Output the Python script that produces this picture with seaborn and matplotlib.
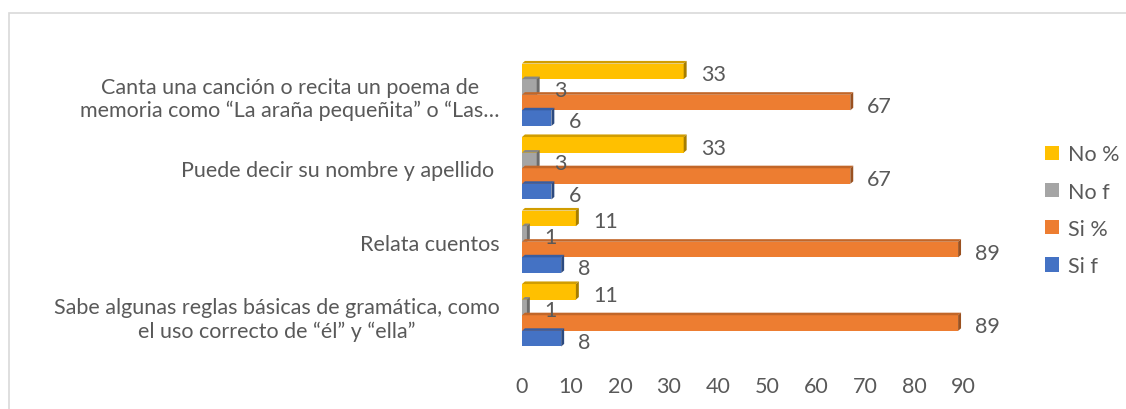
import numpy as np
import pandas as pd

import matplotlib
import matplotlib.pyplot as plt
from matplotlib.patches import Polygon, Rectangle

import seaborn as sns

indicadores = [
    'Canta una canción o recita un poema de\nmemoria como “La araña pequeñita” o “Las…',
    'Puede decir su nombre y apellido ',
    'Relata cuentos',
    'Sabe algunas reglas básicas de gramática, como\nel uso correcto de “él” y “ella”',
]
series = ['No %', 'No f', 'Si %', 'Si f']
no_pct = [33, 33, 11, 11]
no_f = [3, 3, 1, 1]
si_pct = [67, 67, 89, 89]
si_f = [6, 6, 8, 8]

colores = {'No %': '#FFC000', 'No f': '#A5A5A5', 'Si %': '#ED7D31', 'Si f': '#4472C4'}
texto = '#595959'
fs = 15.5

valores = {'No %': no_pct, 'No f': no_f, 'Si %': si_pct, 'Si f': si_f}
filas = []
for s in series:
    for ind, v in zip(indicadores, valores[s]):
        filas.append({'indicador': ind, 'serie': s, 'valor': v})
df = pd.DataFrame(filas)

sns.set_theme(style='white')
plt.rcParams['font.family'] = ['Lato', 'DejaVu Sans']

fig = plt.figure(figsize=(11.26, 4.1), dpi=100)
ax = fig.add_axes([522 / 1126, 1 - 353 / 410, 441 / 1126, 294 / 410])

sns.barplot(data=df, x='valor', y='indicador', hue='serie', order=indicadores,
            hue_order=series, palette=colores, orient='h', width=0.85,
            saturation=1, linewidth=0, ax=ax)


def oscurecer(c, f):
    r, g, b = matplotlib.colors.to_rgb(c)
    return (r * f, g * f, b * f)


# efecto 3D y etiquetas de datos
dx = 0.6
dy = 0.035
for cont, s in zip(ax.containers, series):
    for p in cont.patches:
        x0 = p.get_x()
        w = p.get_width()
        ytop = p.get_y()
        ybot = p.get_y() + p.get_height()
        x1 = x0 + w
        top = Polygon([(x0, ytop), (x0 + dx, ytop - dy), (x1 + dx, ytop - dy), (x1, ytop)],
                      closed=True, fc=oscurecer(colores[s], 0.82), ec='none', clip_on=False)
        side = Polygon([(x1, ytop), (x1 + dx, ytop - dy), (x1 + dx, ybot - dy), (x1, ybot)],
                       closed=True, fc=oscurecer(colores[s], 0.65), ec='none', clip_on=False)
        ax.add_patch(top)
        ax.add_patch(side)
        ax.annotate(f'{w:g}', (x1, (ytop + ybot) / 2), xytext=(17, -3),
                    textcoords='offset pixels', ha='left', va='center',
                    fontsize=fs, color=texto, annotation_clip=False)

ax.set_xlim(0, 90)
ax.set_xticks(range(0, 91, 10))
ax.set_xlabel('')
ax.set_ylabel('')
for sp in ax.spines.values():
    sp.set_visible(False)
ax.tick_params(axis='x', length=0, pad=17, labelsize=fs, labelcolor=texto)
ax.tick_params(axis='y', length=0, pad=16, labelsize=fs, labelcolor=texto)
for lab in ax.get_yticklabels():
    lab.set_multialignment('center')

handles, labels = ax.get_legend_handles_labels()
ax.legend(handles, labels, loc='upper left', bbox_to_anchor=(1026 / 1126, 1 - 126 / 410),
          bbox_transform=fig.transFigure, frameon=False, fontsize=fs,
          labelcolor=texto, handlelength=0.65, handleheight=0.65,
          handletextpad=0.4, labelspacing=0.8)

# borde del área del gráfico (recortado)
fig.add_artist(Rectangle((9 / 1126, -0.2), 1.2, 1 - 14 / 410 + 0.2,
                         transform=fig.transFigure, fill=False,
                         ec='#D9D9D9', lw=1.2))

fig.savefig('out.png', dpi=100)
